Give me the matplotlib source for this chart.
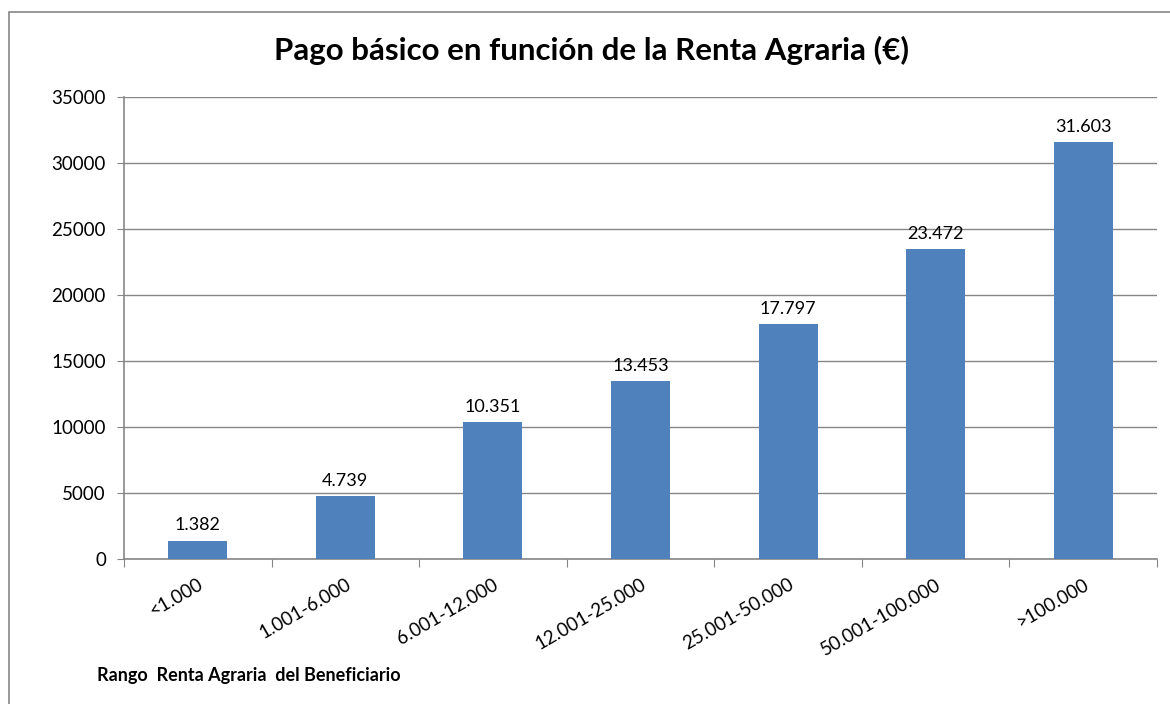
import matplotlib
matplotlib.use("Agg")
import matplotlib.pyplot as plt
from matplotlib.patches import Rectangle

# datos
rangos = ["<1.000", "1.001-6.000", "6.001-12.000", "12.001-25.000",
          "25.001-50.000", "50.001-100.000", ">100.000"]
pago = [1382, 4739, 10351, 13453, 17797, 23472, 31603]
etiquetas = ["1.382", "4.739", "10.351", "13.453", "17.797", "23.472", "31.603"]

plt.rcParams["font.family"] = ["Lato", "DejaVu Sans"]

fig = plt.figure(figsize=(11.7, 7.04), dpi=100)
ax = fig.add_axes([124/1170, 1-559/704, (1157-124)/1170, (559-97)/704])

x = range(len(rangos))
ax.bar(x, pago, width=0.4, color="#4F81BD", zorder=3)
for i, v in enumerate(pago):
    ax.text(i, v + 550, etiquetas[i], ha="center", va="bottom", fontsize=13)

ax.set_xlim(-0.5, len(rangos) - 0.5)
ax.set_ylim(0, 35000)
ax.set_yticks(range(0, 35001, 5000))
ax.tick_params(axis="y", labelsize=13.5, length=5, color="#868686", pad=8)
ax.yaxis.grid(True, color="#868686", linewidth=1, zorder=0)

# ticks en los limites de categoria, etiquetas en el centro
ax.set_xticks([i - 0.5 for i in range(len(rangos) + 1)])
ax.set_xticklabels([])
ax.set_xticks(list(x), minor=True)
ax.set_xticklabels(rangos, minor=True, rotation=30, ha="right",
                   rotation_mode="anchor", fontsize=13.5)
ax.tick_params(axis="x", which="major", length=6, color="#868686")
ax.tick_params(axis="x", which="minor", length=0, pad=12)

for s in ["top", "right"]:
    ax.spines[s].set_visible(False)
for s in ["left", "bottom"]:
    ax.spines[s].set_color("#868686")
    ax.spines[s].set_linewidth(1.2)

fig.text(592/1170, 1-50/704, "Pago básico en función de la Renta Agraria (€)",
         ha="center", va="center", fontsize=22.5, fontweight="bold")
fig.text(97/1170, 1-676/704, "Rango  Renta Agraria  del Beneficiario",
         ha="left", va="center", fontsize=13, fontweight="bold")

# marco del grafico
fig.patches.append(Rectangle((9/1170, -0.01), 1.02, 1-12/704 + 0.01,
                             transform=fig.transFigure, fill=False,
                             edgecolor="#868686", linewidth=1.2))

fig.savefig("out.png", dpi=100)
